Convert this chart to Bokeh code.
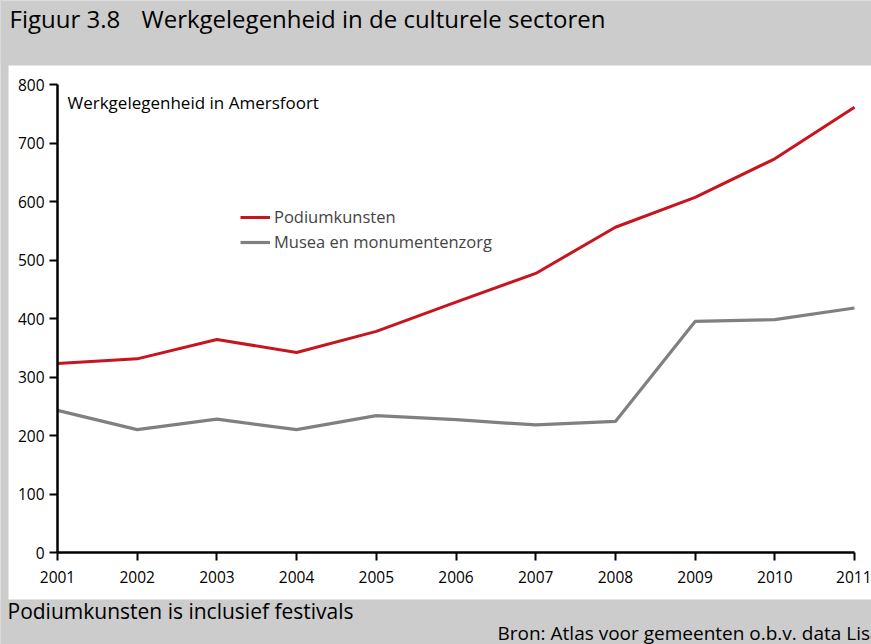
from bokeh.plotting import figure
from bokeh.models import Label, Legend, LegendItem, FixedTicker, Range1d, BoxAnnotation
from bokeh.embed import file_html
from bokeh.resources import INLINE

# ---- data ----
years = [2001, 2002, 2003, 2004, 2005, 2006, 2007, 2008, 2009, 2010, 2011]
podiumkunsten = [323, 331, 364, 342, 378, 428, 477, 556, 607, 673, 761]
musea = [243, 210, 228, 210, 234, 227, 218, 224, 395, 398, 418]
y_ticks = [0, 100, 200, 300, 400, 500, 600, 700, 800]
series_names = ["Podiumkunsten", "Musea en monumentenzorg"]

FONT = "Open Sans"
RED = "#c8141e"
GREY = "#808080"
BG = "#cccccc"

W, H = 871, 644
# pixel geometry of the reference (canvas coordinates)
X0_PX, X_PER = 57.0, 79.7      # 2001 at x=57, px per year
Y0_PX, Y_PER = 552.0, 0.585    # value 0 at y=552, px per unit
PANEL_L, PANEL_T, PANEL_B = 8, 65, 599


def dx(px):
    return years[0] + (px - X0_PX) / X_PER


def dy(py):
    return (Y0_PX - py) / Y_PER


p = figure(width=W, height=H, output_backend="svg", toolbar_location=None,
           x_range=Range1d(dx(0), dx(W)), y_range=Range1d(dy(H), dy(0)),
           min_border_left=0, min_border_right=0,
           min_border_top=0, min_border_bottom=0,
           border_fill_color=BG, background_fill_color="white",
           outline_line_color=None)
p.grid.visible = False

# grey surround (header, footer, left strip)
for l, r, t, b in [(0, W, 0, PANEL_T), (0, W, PANEL_B, H), (0, PANEL_L, 0, H)]:
    p.add_layout(BoxAnnotation(left=dx(l), right=dx(r), top=dy(t), bottom=dy(b),
                               fill_color=BG, fill_alpha=1, line_color=None,
                               level="underlay"))

p.xaxis.fixed_location = 0
p.yaxis.fixed_location = years[0]
p.xaxis.bounds = (years[0], years[-1])
p.yaxis.bounds = (y_ticks[0], y_ticks[-1])
p.xaxis.ticker = FixedTicker(ticks=years)
p.yaxis.ticker = FixedTicker(ticks=y_ticks)
for ax in (p.xaxis[0], p.yaxis[0]):
    ax.axis_line_width = 2.5
    ax.axis_line_color = "black"
    ax.major_tick_line_width = 2
    ax.major_tick_line_color = "black"
    ax.major_tick_in = 0
    ax.major_tick_out = 8
    ax.minor_tick_line_color = None
    ax.major_label_text_font = FONT
    ax.major_label_text_font_size = "15.5px"
    ax.major_label_text_color = "black"
p.xaxis.major_label_standoff = 10
p.yaxis.major_label_standoff = 5

r1 = p.line(years, podiumkunsten, line_color=RED, line_width=3)
r2 = p.line(years, musea, line_color=GREY, line_width=3.2)

legend = Legend(items=[LegendItem(label=series_names[0], renderers=[r1]),
                       LegendItem(label=series_names[1], renderers=[r2])],
                location=(240, H - 253), padding=0, margin=0, spacing=2,
                glyph_width=30, glyph_height=20, label_height=20,
                label_standoff=4, border_line_color=None,
                background_fill_alpha=0,
                label_text_font=FONT, label_text_font_size="16.5px")
p.add_layout(legend)


def lab(text, px, py, size, align="left"):
    p.add_layout(Label(x=dx(px), y=dy(py), text=text, text_font=FONT,
                       text_font_size=size, text_color="black",
                       text_align=align, text_baseline="alphabetic"))


lab("Figuur 3.8", 9, 18, "24px")
lab("Werkgelegenheid in de culturele sectoren", 141, 18, "24px")
lab("Werkgelegenheid in Amersfoort", 67, 102, "17px")
lab("Podiumkunsten is inclusief festivals", 7, 610, "21px")
lab("Bron: Atlas voor gemeenten o.b.v. data Lisa", 497, 632, "19px")

html = file_html(p, INLINE)
html = html.replace("</head>", "<style>body{background:#cccccc;}</style></head>", 1)
open("out.html", "w").write(html)
